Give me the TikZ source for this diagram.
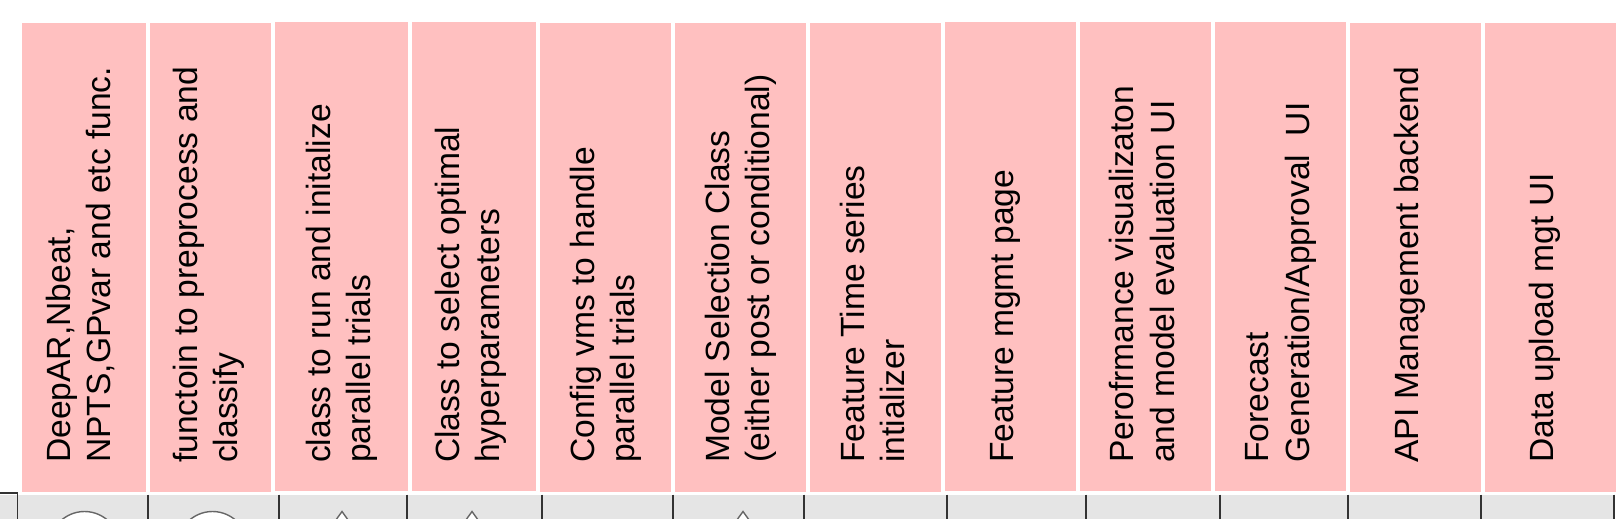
\documentclass[tikz,border=0pt]{standalone}
\usepackage{fontspec}
\setmainfont{Liberation Sans}
\definecolor{pinkbox}{HTML}{FFC0C0}
\definecolor{greyband}{HTML}{E5E5E5}
\definecolor{rulegrey}{HTML}{333333}
\definecolor{markgrey}{HTML}{666666}
\tikzset{
  box/.style={fill=pinkbox,draw=none},
  lbl/.style={rotate=90,anchor=base west,inner sep=0pt,align=left,font=\fontsize{33.6}{40.7}\selectfont,text=black},
  sep/.style={draw=rulegrey,line width=1.7pt},
  roundmark/.style={draw=markgrey,line width=1.4pt,fill=white},
  trimark/.style={draw=markgrey,line width=1.4pt,fill=white}
}
\begin{document}
\begin{tikzpicture}[x=1pt,y=-1pt]
\useasboundingbox (0,0) rectangle (1624,519);
\fill[white] (0,0) rectangle (1624,519);
\fill[greyband] (0,494.7) rectangle (1614,519);
\clip (0,0) rectangle (1624,519);
% boxes
\foreach \a/\b/\t/\e in {22/146/23/492,150/271/23/492,275/408/22/491,412/536/22/491,540/671/23/492,675/806/23/492,810/941/23/492,945/1076/22/491,1080/1211/22/491,1215/1346/22/491,1350/1481/23/492,1485/1616/23/492}
  \fill[box] (\a,\t) rectangle (\b,\e);
% separators
\draw[sep] (0,493) -- (17.5,493) -- (17.5,519);
\foreach \x in {148,279,407,542,673,804,947,1086,1220,1348,1481,1614}
  \draw[sep] (\x,494.7) -- (\x,519);
% marks
\draw[roundmark] (84.5,546.5) circle (35);
\draw[roundmark] (212.5,546.5) circle (35);
\foreach \x in {342,472,743}
  \draw[trimark] (\x-14,531) -- (\x,511.5) -- (\x+14,531);
% labels
\node[lbl] (t1) at (110.7,463) {DeepAR,Nbeat,\\NPTS,GPvar and etc func.};
\node[lbl] (t2) at (237.7,463) {functoin to preprocess and\\classify};
\node[lbl] (t3) at (370.7,463) {class to run and initalize\\parallel trials};
\node[lbl] (t4) at (499.7,463) {Class to select optimal\\hyperparameters};
\node[lbl] (t5) at (634.7,463) {Config vms to handle\\parallel trials};
\node[lbl] (t6) at (769.7,463) {Model Selection Class\\(either post or conditional)};
\node[lbl] (t7) at (904.7,463) {Feature Time series\\intializer};
\node[lbl] (t8) at (1013,463) {Feature mgmt page};
\node[lbl] (t9) at (1174,463) {Perofrmance visualizaton\\and model evaluation UI};
\node[lbl] (t10) at (1309,463) {Forecast\\Generation/Approval\ \ UI};
\node[lbl] (t11) at (1418,463) {API Management backend};
\node[lbl] (t12) at (1553,463) {Data upload mgt UI};
\end{tikzpicture}
\end{document}
